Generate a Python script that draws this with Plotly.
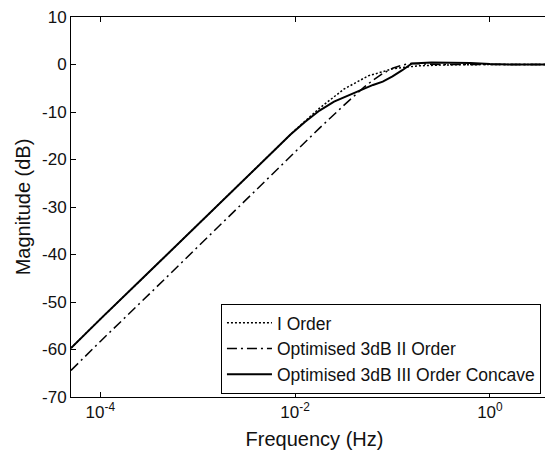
import plotly.graph_objects as go

# Frequencies (Hz) and magnitudes (dB)
freq_I = [5.0e-5, 1.0e-4, 3.16e-4, 1.0e-3, 3.16e-3, 5.62e-3, 1.0e-2, 1.78e-2, 3.16e-2,
          5.62e-2, 0.1, 0.178, 0.316, 1.0, 5.0]
mag_I = [-59.7, -53.6, -43.7, -33.7, -23.7, -18.7, -13.8, -9.2, -5.2,
         -2.4, -0.9, -0.3, -0.1, 0.0, 0.0]

freq_II = [5.0e-5, 1.0e-4, 3.16e-4, 1.0e-3, 3.16e-3, 5.62e-3, 1.0e-2, 1.78e-2, 3.16e-2,
           3.98e-2, 5.01e-2, 6.31e-2, 7.94e-2, 0.1, 0.126, 0.151, 0.2, 0.316, 5.0]
mag_II = [-64.4, -58.3, -48.4, -38.4, -28.4, -23.3, -18.3, -13.4, -8.6,
          -6.7, -4.9, -3.3, -1.9, -0.8, -0.1, 0.2, 0.1, 0.0, 0.0]

freq_III = [5.0e-5, 1.0e-4, 3.16e-4, 1.0e-3, 3.16e-3, 5.62e-3, 8.91e-3, 1.26e-2, 1.78e-2,
            2.51e-2, 3.16e-2, 3.98e-2, 5.01e-2, 6.31e-2, 7.94e-2, 0.1, 0.126, 0.158,
            0.251, 0.398, 0.631, 1.0, 1.58, 5.0]
mag_III = [-59.7, -53.6, -43.7, -33.7, -23.7, -18.7, -14.8, -12.1, -9.7,
           -7.8, -6.9, -6.1, -5.2, -4.3, -3.6, -2.5, -1.2, 0.2,
           0.4, 0.4, 0.3, 0.1, 0.0, 0.0]

x_tickvals = [1e-4, 1e-2, 1]
x_ticktext = ["10<sup>-4</sup>", "10<sup>-2</sup>", "10<sup>0</sup>"]
y_tickvals = [10, 0, -10, -20, -30, -40, -50, -60, -70]
y_ticktext = ["10", "0", "-10", "-20", "-30", "-40", "-50", "-60", "-70"]

FONT = "Liberation Sans, Arial, sans-serif"

fig = go.Figure()
fig.add_trace(go.Scatter(x=freq_I, y=mag_I, mode="lines", name="I Order",
                         line=dict(color="black", width=1.5, dash="2px,2px")))
fig.add_trace(go.Scatter(x=freq_II, y=mag_II, mode="lines", name="Optimised 3dB II Order",
                         line=dict(color="black", width=1.5, dash="10px,4px,2px,4px")))
fig.add_trace(go.Scatter(x=freq_III, y=mag_III, mode="lines", name="Optimised 3dB III Order Concave",
                         line=dict(color="black", width=2)))
# invisible trace to carry right-side ticks
fig.add_trace(go.Scatter(x=[1e-4], y=[0], yaxis="y2", mode="markers",
                         marker=dict(opacity=0), showlegend=False, hoverinfo="skip"))

fig.update_layout(
    width=553, height=453,
    margin=dict(l=63, r=3, t=9, b=64),
    paper_bgcolor="white", plot_bgcolor="white",
    font=dict(family=FONT, size=17, color="#111111"),
    showlegend=True,
    legend=dict(x=0.965, y=0.008, xanchor="right", yanchor="bottom",
                bgcolor="white", bordercolor="black", borderwidth=1,
                font=dict(size=17.5), itemwidth=45, tracegroupgap=0),
    xaxis=dict(type="log", range=[-4.301, 0.699], tickvals=x_tickvals, ticktext=x_ticktext,
               ticks="inside", ticklen=5, tickcolor="black", showline=True, linecolor="black",
               linewidth=1, mirror="ticks", showgrid=False, zeroline=False, automargin=False,
               ticklabeloverflow="allow",
               title=dict(text="Frequency (Hz)", standoff=10)),
    yaxis=dict(range=[-70, 10], tickvals=y_tickvals, ticktext=y_ticktext, ticks="inside",
               ticklen=5, tickcolor="black", showline=True, linecolor="black", linewidth=1,
               showgrid=False, zeroline=False, automargin=False, ticklabeloverflow="allow",
               title=dict(text="Magnitude (dB)", standoff=6)),
    yaxis2=dict(range=[-70, 10], tickvals=y_tickvals, overlaying="y", side="right",
                ticks="inside", ticklen=5, tickcolor="black", showline=False,
                showticklabels=False, showgrid=False, zeroline=False, automargin=False),
)

fig.write_html("out.html")
